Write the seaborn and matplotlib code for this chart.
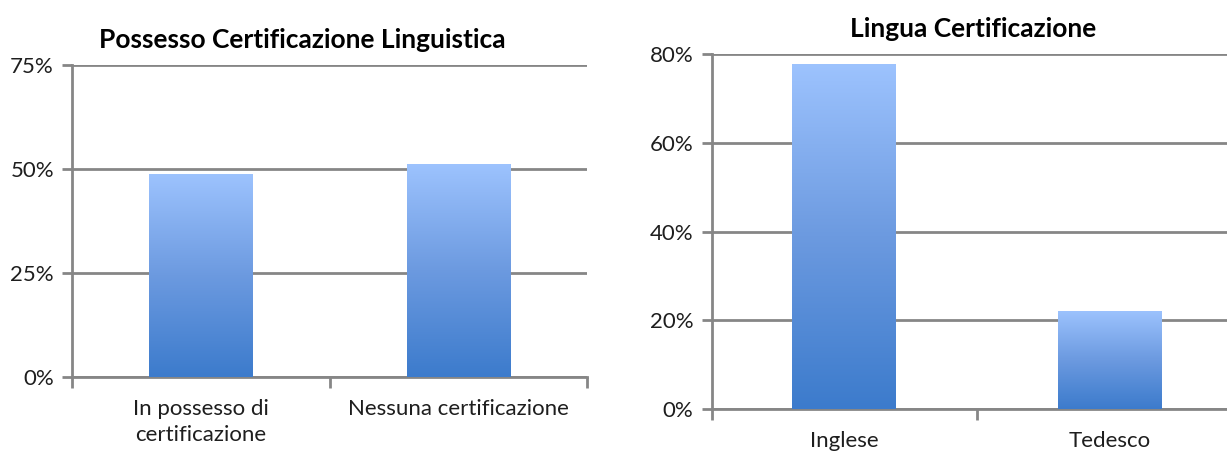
import numpy as np
import pandas as pd
import matplotlib
matplotlib.use("Agg")
import matplotlib.pyplot as plt
import seaborn as sns
from matplotlib.colors import LinearSegmentedColormap
from matplotlib.ticker import FuncFormatter

# Data
possesso_labels = ["In possesso di\ncertificazione", "Nessuna certificazione"]
possesso_values = [48.8, 51.2]

lingua_labels = ["Inglese", "Tedesco"]
lingua_values = [77.8, 22.2]

sns.set_style("white")
plt.rcParams["font.family"] = ["Lato", "DejaVu Sans"]

grid_color = "#868686"
text_color = "#1e1e1e"
grad = LinearSegmentedColormap.from_list("bar", ["#3C7BCC", "#6C9AE0", "#9DC3FE"])


def gradient_bars(ax):
    for patch in ax.patches:
        x, y = patch.get_x(), patch.get_y()
        w, h = patch.get_width(), patch.get_height()
        img = ax.imshow(
            np.linspace(0, 1, 256).reshape(-1, 1),
            cmap=grad, aspect="auto", origin="lower",
            extent=[x, x + w, y, y + h], zorder=3,
        )
        img.set_clip_path(patch)
        patch.set_facecolor("none")
        patch.set_edgecolor("none")


def style_axes(ax, ticks, top):
    ax.set_ylim(0, top)
    ax.set_xlim(-0.5, 1.5)
    ax.set_yticks(ticks)
    ax.yaxis.set_major_formatter(FuncFormatter(lambda v, p: f"{v:.0f}%"))
    ax.yaxis.grid(True, color=grid_color, linewidth=2)
    ax.set_axisbelow(True)
    for side in ["top", "right"]:
        ax.spines[side].set_visible(False)
    for side in ["left", "bottom"]:
        ax.spines[side].set_color(grid_color)
        ax.spines[side].set_linewidth(2)
    ax.set_xlabel("")
    ax.set_ylabel("")
    ax.tick_params(axis="y", left=True, length=7, width=2, color=grid_color,
                   labelsize=16, labelcolor=text_color, pad=6)
    ax.tick_params(axis="x", bottom=False, labelsize=16, labelcolor=text_color, pad=12)
    for lbl in ax.get_xticklabels():
        lbl.set_linespacing(1.4)
    ax.set_xticks([-0.5, 0.5, 1.5], minor=True)
    ax.tick_params(axis="x", which="minor", bottom=True, length=8, width=2,
                   color=grid_color, direction="out")


fig = plt.figure(figsize=(12.27, 4.51), dpi=100)

ax1 = fig.add_axes([0.0587, 0.164, 0.420, 0.692])
df1 = pd.DataFrame({"cat": possesso_labels, "val": possesso_values})
sns.barplot(data=df1, x="cat", y="val", ax=ax1, width=0.4, color="#5b8fdb")
style_axes(ax1, [0, 25, 50, 75], 75)
gradient_bars(ax1)
ax1.set_xlim(-0.5, 1.5)

ax2 = fig.add_axes([0.580, 0.0931, 0.432, 0.787])
df2 = pd.DataFrame({"cat": lingua_labels, "val": lingua_values})
sns.barplot(data=df2, x="cat", y="val", ax=ax2, width=0.39, color="#5b8fdb")
style_axes(ax2, [0, 20, 40, 60, 80], 80)
gradient_bars(ax2)
ax2.set_xlim(-0.5, 1.5)

fig.text(302 / 1227, 1 - 40 / 451, "Possesso Certificazione Linguistica",
         ha="center", va="center", fontsize=19, fontweight="bold", color="black")
fig.text(973 / 1227, 1 - 29 / 451, "Lingua Certificazione",
         ha="center", va="center", fontsize=19, fontweight="bold", color="black")

fig.savefig("out.png", dpi=100)
